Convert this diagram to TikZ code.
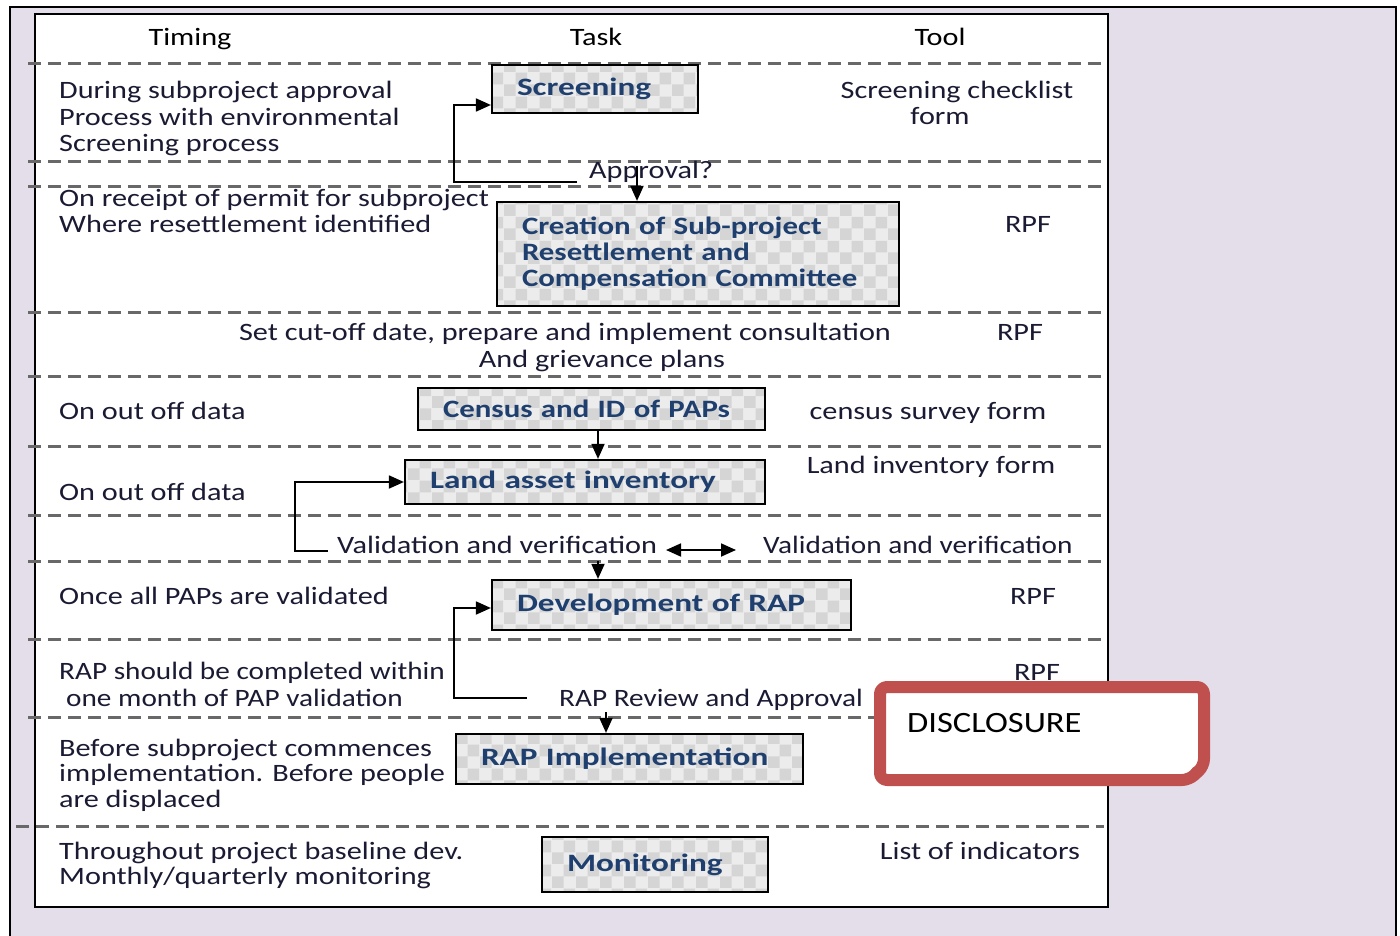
\documentclass[tikz,border=0pt]{standalone}
\usepackage{fontspec}
\setmainfont{Carlito}[FakeStretch=1.21]
\newfontfamily\bodynarrow{Carlito}[FakeStretch=1.17]
\newfontfamily\taskfont{Carlito}[FakeStretch=1.33]
\newfontfamily\taskfontnarrow{Carlito}[FakeStretch=1.235]
\newfontfamily\discfont{Carlito}[FakeStretch=1.17]
\usetikzlibrary{arrows.meta,patterns}

\definecolor{lavender}{HTML}{E3DEEA}
\definecolor{discred}{HTML}{C0504D}
\definecolor{dashgray}{HTML}{686868}
\definecolor{boxlight}{HTML}{ECECEC}
\definecolor{boxdark}{HTML}{D5D5D5}
\definecolor{boxtext}{HTML}{1F3F6F}
\definecolor{bodytext}{HTML}{1A1A33}

% large checkerboard tile for the task boxes
\pgfdeclarepatternformonly{bigchecks}{\pgfpointorigin}{\pgfqpoint{24pt}{24pt}}{\pgfqpoint{24pt}{24pt}}{%
  \pgfpathrectangle{\pgfpointorigin}{\pgfqpoint{12pt}{12pt}}%
  \pgfpathrectangle{\pgfqpoint{12pt}{12pt}}{\pgfqpoint{12pt}{12pt}}%
  \pgfusepath{fill}}

\tikzset{
  rowsep/.style={draw=dashgray, line width=3pt, dash pattern=on 13pt off 7pt},
  body/.style={text=bodytext, inner sep=0pt, font=\fontsize{25}{26.5}\selectfont},
  narrowbody/.style={font=\bodynarrow\fontsize{25}{26.5}\selectfont},
  lbl/.style={body, anchor=base west, align=left},
  ctr/.style={body, anchor=base, align=center},
  taskbox/.style={draw=black, line width=2.2pt, preaction={fill=boxlight},
    pattern=bigchecks, pattern color=boxdark, text=boxtext,
    font=\taskfont\bfseries\fontsize{25}{26}\selectfont, align=left, inner sep=0pt},
  narrowtask/.style={font=\taskfontnarrow\bfseries\fontsize{25}{26}\selectfont},
  conn/.style={draw=black, line width=1.8pt},
  arr/.style={conn, -{Triangle[length=15pt,width=13pt]}},
  darr/.style={conn, {Triangle[length=15pt,width=13pt]}-{Triangle[length=15pt,width=13pt]}},
}

\begin{document}
\begin{tikzpicture}[x=1pt, y=-1pt]
\useasboundingbox (0,0) rectangle (1400,936);

% frames
\draw[fill=lavender, line width=2pt] (10,7) rectangle (1396,950);
\draw[fill=white, line width=2.5pt] (35,14) rectangle (1108,907);

% row separators
\foreach \yy in {64,162,187,312,376,446,515,561,639,717}
  \draw[rowsep] (28,\yy) -- (1104,\yy);
\draw[rowsep] (16,826) -- (1104,826);

% column headings
\node[ctr, text=black] (hTiming) at (190,46) {Timing};
\node[ctr, text=black] (hTask) at (596,46) {Task};
\node[ctr, text=black] (hTool) at (940,46) {Tool};

% timing column (multi-line nodes sit on the baseline of their last line)
\node[lbl] (tm1) at (59,152) {During subproject approval\\Process with environmental\\Screening process};
\node[lbl] (tm2) at (59,233) {On receipt of permit for subproject\\Where resettlement identified};
\node[ctr] (tm3a) at (565,340) {Set cut-off date, prepare and implement consultation};
\node[ctr] (tm3b) at (602,367) {And grievance plans};
\node[lbl] (tm4) at (59,419) {On out off data};
\node[lbl] (tm5) at (59,500) {On out off data};
\node[lbl] (tm6) at (59,604) {Once all PAPs are validated};
\node[lbl, narrowbody] (tm7) at (59,706) {RAP should be completed within\\\hspace*{7pt}one month of PAP validation};
\node[lbl, font=\fontsize{25}{25.5}\selectfont] (tm8) at (59,807) {Before subproject commences\\implementation. Before people\\are displaced};
\node[lbl, font=\fontsize{25}{25}\selectfont] (tm9) at (59,884) {Throughout project baseline dev.\\Monthly/quarterly monitoring};

% tool column
\node[ctr] (tl1a) at (957,99) {Screening checklist};
\node[ctr] (tl1b) at (940,125) {form};
\node[ctr] (tl2) at (1028,233) {RPF};
\node[ctr] (tl3) at (1020,340) {RPF};
\node[ctr] (tl4) at (928,419) {census survey form};
\node[ctr] (tl5) at (931,473) {Land inventory form};
\node[ctr] (tl6) at (1033,604) {RPF};
\node[ctr] (tl7) at (1037,680) {RPF};
\node[ctr] (tl9) at (980,859) {List of indicators};

% decision / review labels
\node[lbl] (apq) at (589,179) {Approval?};
\node[lbl] (val1) at (337,553) {Validation and verification};
\node[lbl, narrowbody] (val2) at (763,553) {Validation and verification};
\node[lbl, narrowbody] (rev) at (559,706) {RAP Review and Approval};

% task boxes (text starts 25pt inside the left border)
\node[taskbox, minimum width=206pt, minimum height=48pt, text width=156pt] (scr) at (595,89) {\mbox{Screening}};
\node[taskbox, narrowtask, minimum width=402pt, minimum height=104pt, text width=352pt] (cre) at (698,254)
  {\mbox{Creation of Sub-project}\\\mbox{Resettlement and}\\\mbox{Compensation Committee}};
\node[taskbox, narrowtask, minimum width=347pt, minimum height=42pt, text width=297pt] (cen) at (591.5,409) {\mbox{Census and ID of PAPs}};
\node[taskbox, minimum width=360pt, minimum height=44pt, text width=310pt] (land) at (585,482) {\mbox{Land asset inventory}};
\node[taskbox, minimum width=359pt, minimum height=50pt, text width=309pt] (dev) at (671.5,605) {\mbox{Development of RAP}};
\node[taskbox, minimum width=347pt, minimum height=50pt, text width=297pt] (impl) at (629.5,759) {\mbox{RAP Implementation}};
\node[taskbox, minimum width=226pt, minimum height=55pt, text width=176pt] (mon) at (655,864.5) {\mbox{Monitoring}};

% connectors
\coordinate (apStart) at (577,182);
\coordinate (apCorner) at (454,182);
\draw[arr] (apStart) -- (apCorner) |- ([yshift=-16pt]scr.west);
\coordinate (apDrop) at (637,166);
\draw[arr] (apDrop) -- (apDrop |- cre.north);

\draw[arr] (cen.south -| 598,0) -- (land.north -| 598,0);

\coordinate (valStart) at (328,551);
\coordinate (valCorner) at (295,551);
\draw[arr] (valStart) -- (valCorner) |- (land.west);
\coordinate (vaL) at (666,550);
\coordinate (vaR) at (736,550);
\draw[darr] (vaL) -- (vaR);
\coordinate (devDrop) at (598,561);
\draw[arr] (devDrop) -- (devDrop |- dev.north);

\coordinate (revStart) at (527,698);
\coordinate (revCorner) at (454,698);
\draw[arr] (revStart) -- (revCorner) |- ([yshift=-3pt]dev.west);
\coordinate (implDrop) at (606,712);
\draw[arr] (implDrop) -- (implDrop |- impl.north);

% disclosure callout with folded corner
\draw[draw=discred, fill=white, line width=12pt, rounded corners=7pt, line join=round]
  (880,687) -- (1204,687) -- (1204,766) -- (1189,780) -- (880,780) -- cycle;
\draw[draw=discred, line width=5pt, line cap=round] (1191,779) .. controls (1191,770) and (1196,767) .. (1203,767);
\node[anchor=base west, inner sep=0pt, font=\discfont\fontsize{29.5}{30}\selectfont, text=black] (disc) at (907,732) {DISCLOSURE};
\end{tikzpicture}
\end{document}
